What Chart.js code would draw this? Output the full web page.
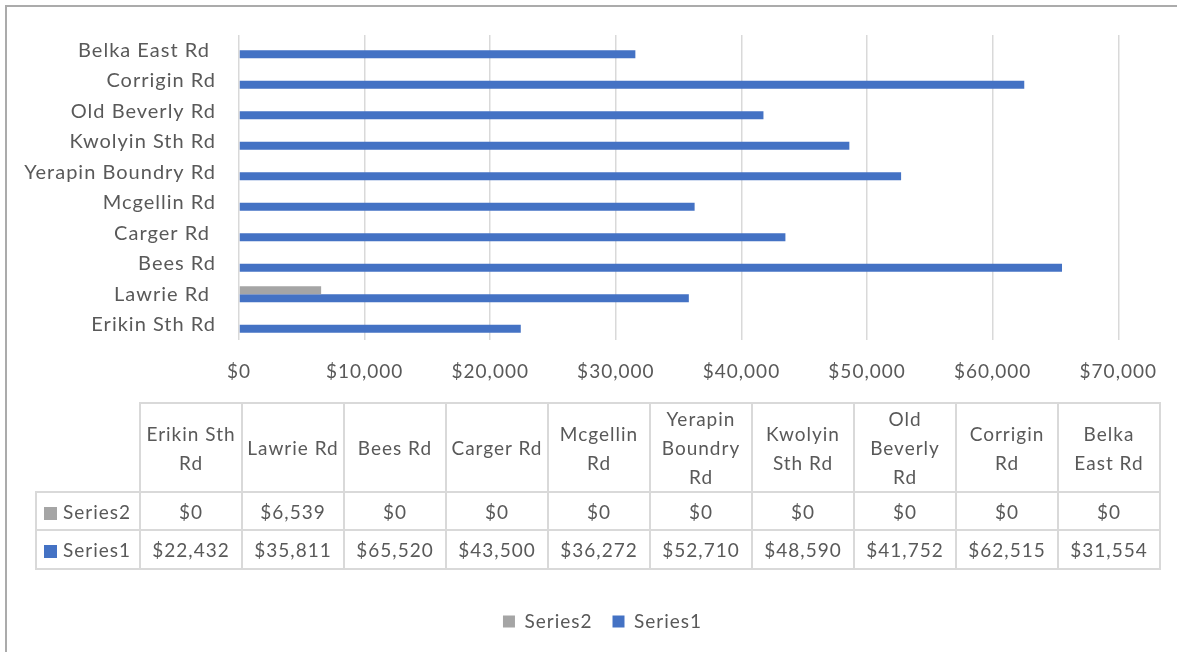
<!DOCTYPE html>
<html>
<head>
<meta charset="utf-8">
<script src="https://cdn.jsdelivr.net/npm/chart.js@4.4.1/dist/chart.umd.min.js"></script>
<style>
  html, body { margin: 0; padding: 0; background: #fff; }
  #wrap { position: relative; width: 1177px; height: 652px; overflow: hidden; font-family: Lato, "Liberation Sans", sans-serif; }
  #frame { position: absolute; left: 5px; top: 5px; width: 1200px; height: 700px; border-top: 2px solid #ababab; border-left: 2px solid #ababab; box-sizing: border-box; }
  #cv { position: absolute; left: 0; top: 0; }
  #tbl { position: absolute; left: 35px; top: 402px; border-collapse: collapse; table-layout: fixed; color: #595959; font-size: 19px; letter-spacing: 1px; line-height: 29px; }
  #tbl td { border: 2px solid #d9d9d9; text-align: center; vertical-align: middle; padding: 0; white-space: pre-line; }
  #tbl td.blank { border: none; }
  #tbl td.name { text-align: left; padding-left: 7px; white-space: nowrap; }
  #tbl .sw { display: inline-block; width: 13px; height: 13px; margin-right: 6px; vertical-align: -1px; }
</style>
</head>
<body>
<div id="wrap">
  <div id="frame"></div>
  <canvas id="cv" width="1177" height="652"></canvas>
  <table id="tbl"></table>
</div>
<script>
// ---- data ----
const categories = ["Erikin Sth Rd", "Lawrie Rd ", "Bees Rd", "Carger Rd ", "Mcgellin Rd", "Yerapin Boundry Rd", "Kwolyin Sth Rd", "Old Beverly Rd", "Corrigin Rd", "Belka East Rd "];
const tableHeaders = ["Erikin Sth\nRd", "Lawrie Rd", "Bees Rd", "Carger Rd", "Mcgellin\nRd", "Yerapin\nBoundry\nRd", "Kwolyin\nSth Rd", "Old\nBeverly\nRd", "Corrigin\nRd", "Belka\nEast Rd"];
const series1 = [22432, 35811, 65520, 43500, 36272, 52710, 48590, 41752, 62515, 31554];
const series2 = [0, 6539, 0, 0, 0, 0, 0, 0, 0, 0];
const seriesNames = ["Series2", "Series1"];
const xTicks = [0, 10000, 20000, 30000, 40000, 50000, 60000, 70000];

const BLUE = "#4472C4", GRAY = "#A5A5A5", TEXT = "#595959", GRID = "#d9d9d9";
const fmt = v => "$" + v.toLocaleString("en-US");

const spacing = {
  id: "spacing",
  beforeUpdate(c) { c.ctx.letterSpacing = "1px"; },
  beforeLayout(c) { c.ctx.letterSpacing = "1px"; },
  afterLayout(c) { c.legend.left += 43; c.legend.right += 43; },
  beforeDraw(c) { c.ctx.letterSpacing = "1px"; }
};

Chart.defaults.font.family = "Lato, 'Liberation Sans', sans-serif";
Chart.defaults.font.size = 19;
Chart.defaults.color = TEXT;

const chart = new Chart(document.getElementById("cv"), {
  type: "bar",
  data: {
    labels: categories,
    datasets: [
      { label: seriesNames[0], data: series2, backgroundColor: GRAY, categoryPercentage: 0.52, barPercentage: 1 },
      { label: seriesNames[1], data: series1, backgroundColor: BLUE, categoryPercentage: 0.52, barPercentage: 1 }
    ]
  },
  plugins: [spacing],
  options: {
    indexAxis: "y",
    responsive: false,
    animation: false,
    layout: { padding: { top: 34, left: 0, right: 58, bottom: 11 } },
    plugins: {
      tooltip: { enabled: false },
      legend: {
        position: "bottom",
        labels: { boxWidth: 12, boxHeight: 12, padding: 20, color: TEXT, font: { size: 19 } }
      }
    },
    scales: {
      x: {
        min: 0, max: 70000,
        afterBuildTicks: s => { s.ticks = xTicks.map(v => ({ value: v })); },
        ticks: { callback: v => fmt(v), padding: 20, maxRotation: 0, autoSkip: false },
        grid: { color: GRID, lineWidth: 1.5, drawTicks: false },
        border: { display: false },
        afterFit: s => { s.height = s.chart.height - 34 - 11 - 306 - s.chart.legend.height; }
      },
      y: {
        reverse: true,
        grid: { display: false, drawTicks: false },
        border: { display: false },
        ticks: { padding: 23, autoSkip: false, font: { size: 20 } },
        afterFit: s => { s.width = 239; }
      }
    }
  }
});

// ---- data table ----
const tbl = document.getElementById("tbl");
let html = '<colgroup><col style="width:104px">' + tableHeaders.map(() => '<col style="width:102px">').join("") + '</colgroup>';
html += '<tr style="height:87px"><td class="blank"></td>' + tableHeaders.map(h => '<td>' + h + '</td>').join("") + '</tr>';
const rows = [[seriesNames[0], GRAY, series2], [seriesNames[1], BLUE, series1]];
rows.forEach((r, i) => {
  html += '<tr style="height:' + (i === 0 ? 38 : 39) + 'px"><td class="name"><span class="sw" style="background:' + r[1] + '"></span>' + r[0] + '</td>' +
    r[2].map(v => '<td>' + fmt(v) + '</td>').join("") + '</tr>';
});
tbl.innerHTML = html;
</script>
</body>
</html>
